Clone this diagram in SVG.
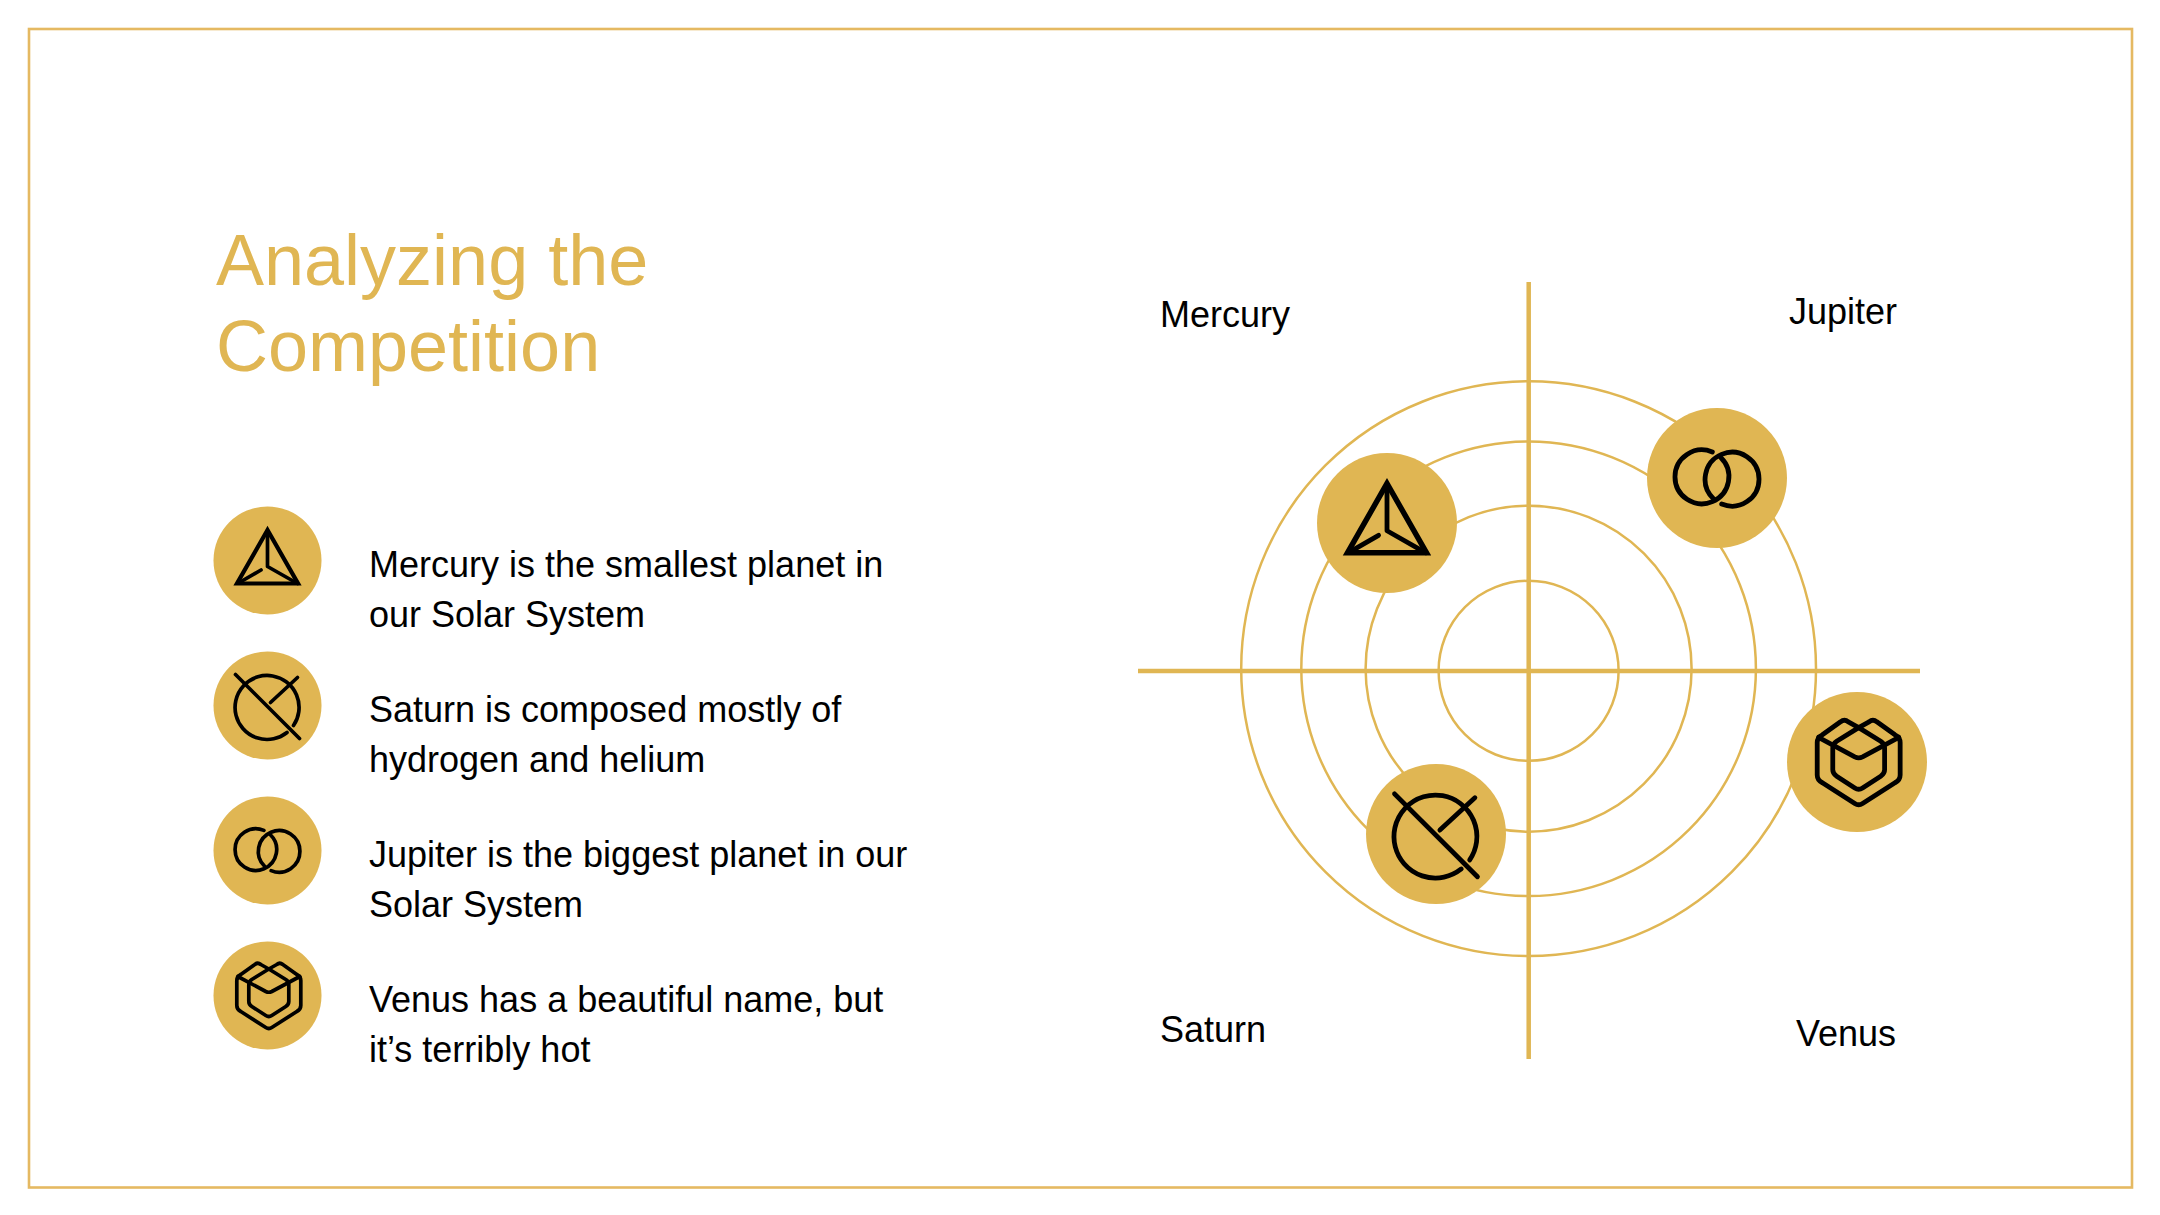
<svg xmlns="http://www.w3.org/2000/svg" width="2160" height="1215" viewBox="0 0 2160 1215">
<style>
text{font-family:"Liberation Sans",Arial,sans-serif;fill:#000;font-size:36px}
.title{font-size:72px;fill:#E0B653}
.frame{fill:none;stroke:#E5B962;stroke-width:2.600}
.ring{fill:none;stroke:#E0B653;stroke-width:2.500}
.axis{fill:none;stroke:#E0B653;stroke-width:4.500}
.disc{fill:#E0B653}
.ic{fill:none;stroke:#000;stroke-width:3.700;stroke-linecap:round;stroke-linejoin:round}
</style>
<defs>
<g id="tri" class="ic"><path d="M0 -30.500L-30.500 23H30.500Z" stroke-linejoin="miter" stroke-width="4.200"/><path d="M0 -30V6L30 23"/><path d="M-29 22.500L-6.500 9.500"/></g>
<g id="nosign" class="ic"><path d="M26 20A32 32 0 1 0 19.500 27"/><path d="M-32 -31L32 33"/><path d="M3 -3L30 -28"/></g>
<g id="venn" class="ic"><path d="M-3.600 -20.100A20.800 20.800 0 1 0 2.900 -15.800"/><path d="M3.600 20.100A20.800 20.800 0 1 0 -2.900 15.800"/></g>
<g id="box" class="ic"><path transform="translate(1.300 0)" d="M-32 -15Q-32 -19 -28 -21L-14 -31Q-11 -33.500 -8 -31L0 -26.500L8 -31Q11 -33.500 14 -31L28 -21Q32 -19 32 -15V10Q32 14 28 16L3 32Q0 34 -3 32L-28 16Q-32 14 -32 10Z"/><path transform="translate(1.300 0)" d="M-31 -19L-3 -4Q0 -2.500 3 -4L31 -19"/><path transform="translate(1.300 0)" d="M0 -26.500L-17 -16Q-20 -14 -20 -11V6Q-20 9 -17 11L-3 20Q0 22 3 20L17 11Q20 9 20 6V-11Q20 -14 17 -16Z"/></g>
</defs>
<rect class="frame" x="29" y="29" width="2103" height="1158.500"/>
<text class="title" x="216" y="285">Analyzing the</text>
<text class="title" x="216" y="371">Competition</text>
<g id="connectors">
<circle class="ring" cx="1528.600" cy="668.700" r="287.400"/>
<circle class="ring" cx="1528.600" cy="668.700" r="227.300"/>
<circle class="ring" cx="1528.600" cy="668.700" r="163"/>
<circle class="ring" cx="1528.600" cy="670.800" r="90"/>
<path class="axis" d="M1138 671H1920M1528.700 282V1059"/>
</g>
<g id="legend-mercury"><circle class="disc" cx="267.500" cy="560.500" r="54"/><use href="#tri" transform="translate(267.500 560.500)"/><text x="369" y="577">Mercury is the smallest planet in</text><text x="369" y="627">our Solar System</text></g>
<g id="legend-saturn"><circle class="disc" cx="267.500" cy="705.500" r="54"/><use href="#nosign" transform="translate(267.500 705.500)"/><text x="369" y="722">Saturn is composed mostly of</text><text x="369" y="772">hydrogen and helium</text></g>
<g id="legend-jupiter"><circle class="disc" cx="267.500" cy="850.500" r="54"/><use href="#venn" transform="translate(267.500 850.500)"/><text x="369" y="867">Jupiter is the biggest planet in our</text><text x="369" y="917">Solar System</text></g>
<g id="legend-venus"><circle class="disc" cx="267.500" cy="995.500" r="54"/><use href="#box" transform="translate(267.500 995.500)"/><text x="369" y="1012">Venus has a beautiful name, but</text><text x="369" y="1062">it’s terribly hot</text></g>
<g id="node-mercury"><circle class="disc" cx="1387" cy="523" r="70"/><use href="#tri" transform="translate(1387 523) scale(1.296)"/><text x="1160" y="327">Mercury</text></g>
<g id="node-jupiter"><circle class="disc" cx="1717" cy="478" r="70"/><use href="#venn" transform="translate(1717 478) scale(1.296)"/><text x="1789" y="324">Jupiter</text></g>
<g id="node-saturn"><circle class="disc" cx="1436" cy="834" r="70"/><use href="#nosign" transform="translate(1436 834) scale(1.296)"/><text x="1160" y="1042">Saturn</text></g>
<g id="node-venus"><circle class="disc" cx="1857" cy="762" r="70"/><use href="#box" transform="translate(1857 762) scale(1.296)"/><text x="1796" y="1046">Venus</text></g>
</svg>
